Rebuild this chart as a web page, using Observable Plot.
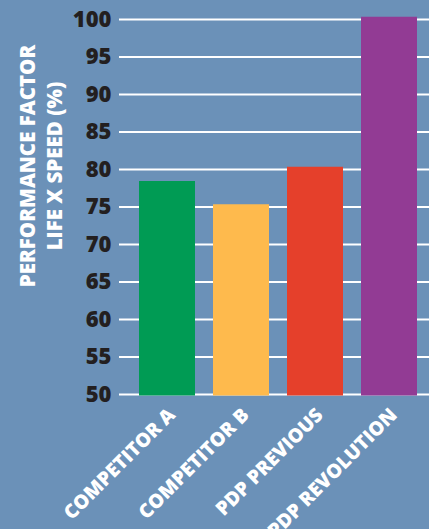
<!DOCTYPE html>
<html>
<head>
<meta charset="utf-8">
<script src="https://cdn.jsdelivr.net/npm/d3@7"></script>
<script src="https://cdn.jsdelivr.net/npm/@observablehq/plot@0.6"></script>
<style>
  html, body { margin: 0; padding: 0; background: #6b91b8; }
  #chart { width: 429px; height: 529px; overflow: hidden; }
</style>
</head>
<body>
<div id="chart"></div>
<script>
const categories = ["COMPETITOR A", "COMPETITOR B", "PDP PREVIOUS", "PDP REVOLUTION"];
const values = [78.4, 75.3, 80.3, 100.3];
const colors = ["#009b54", "#feba4d", "#e5402b", "#923b94"];
const yTicks = [50, 55, 60, 65, 70, 75, 80, 85, 90, 95, 100];
const yLabel = "PERFORMANCE FACTOR\nLIFE X SPEED (%)";

const data = categories.map((c, i) => ({name: c, value: values[i], color: colors[i]}));

const chart = Plot.plot({
  width: 429,
  height: 529,
  marginLeft: 119,
  marginRight: 0,
  marginTop: 19,
  marginBottom: 135,
  style: {background: "#6b91b8", fontFamily: "'Open Sans', sans-serif", overflow: "visible"},
  x: {type: "band", domain: categories, range: [129, 428], paddingInner: 0.24, paddingOuter: 0.12, axis: null},
  y: {domain: [50, 100], axis: null},
  color: {type: "identity"},
  marks: [
    Plot.ruleY(yTicks, {stroke: "white", strokeWidth: 2.2}),
    Plot.barY(data, {x: "name", y1: 50, y2: "value", fill: "color", insetBottom: -1.5}),
    Plot.axisY(yTicks, {tickSize: 0, tickPadding: 8, fontSize: 22, fontWeight: 800, color: "#231f20", label: null}),
    Plot.text(categories, {x: d => d, frameAnchor: "bottom", dy: 12, dx: -1, rotate: -45, textAnchor: "end", lineAnchor: "top", fill: "white", fontSize: 19.5, fontWeight: 800, letterSpacing: "-0.7px"}),
    Plot.text([yLabel], {frameAnchor: "left", dx: -80, dy: -41, rotate: -90, textAnchor: "middle", lineAnchor: "middle", lineHeight: 1.32, fill: "white", fontSize: 20.5, fontWeight: 800, letterSpacing: "-0.3px"})
  ]
});
document.getElementById("chart").appendChild(chart);
</script>
</body>
</html>
